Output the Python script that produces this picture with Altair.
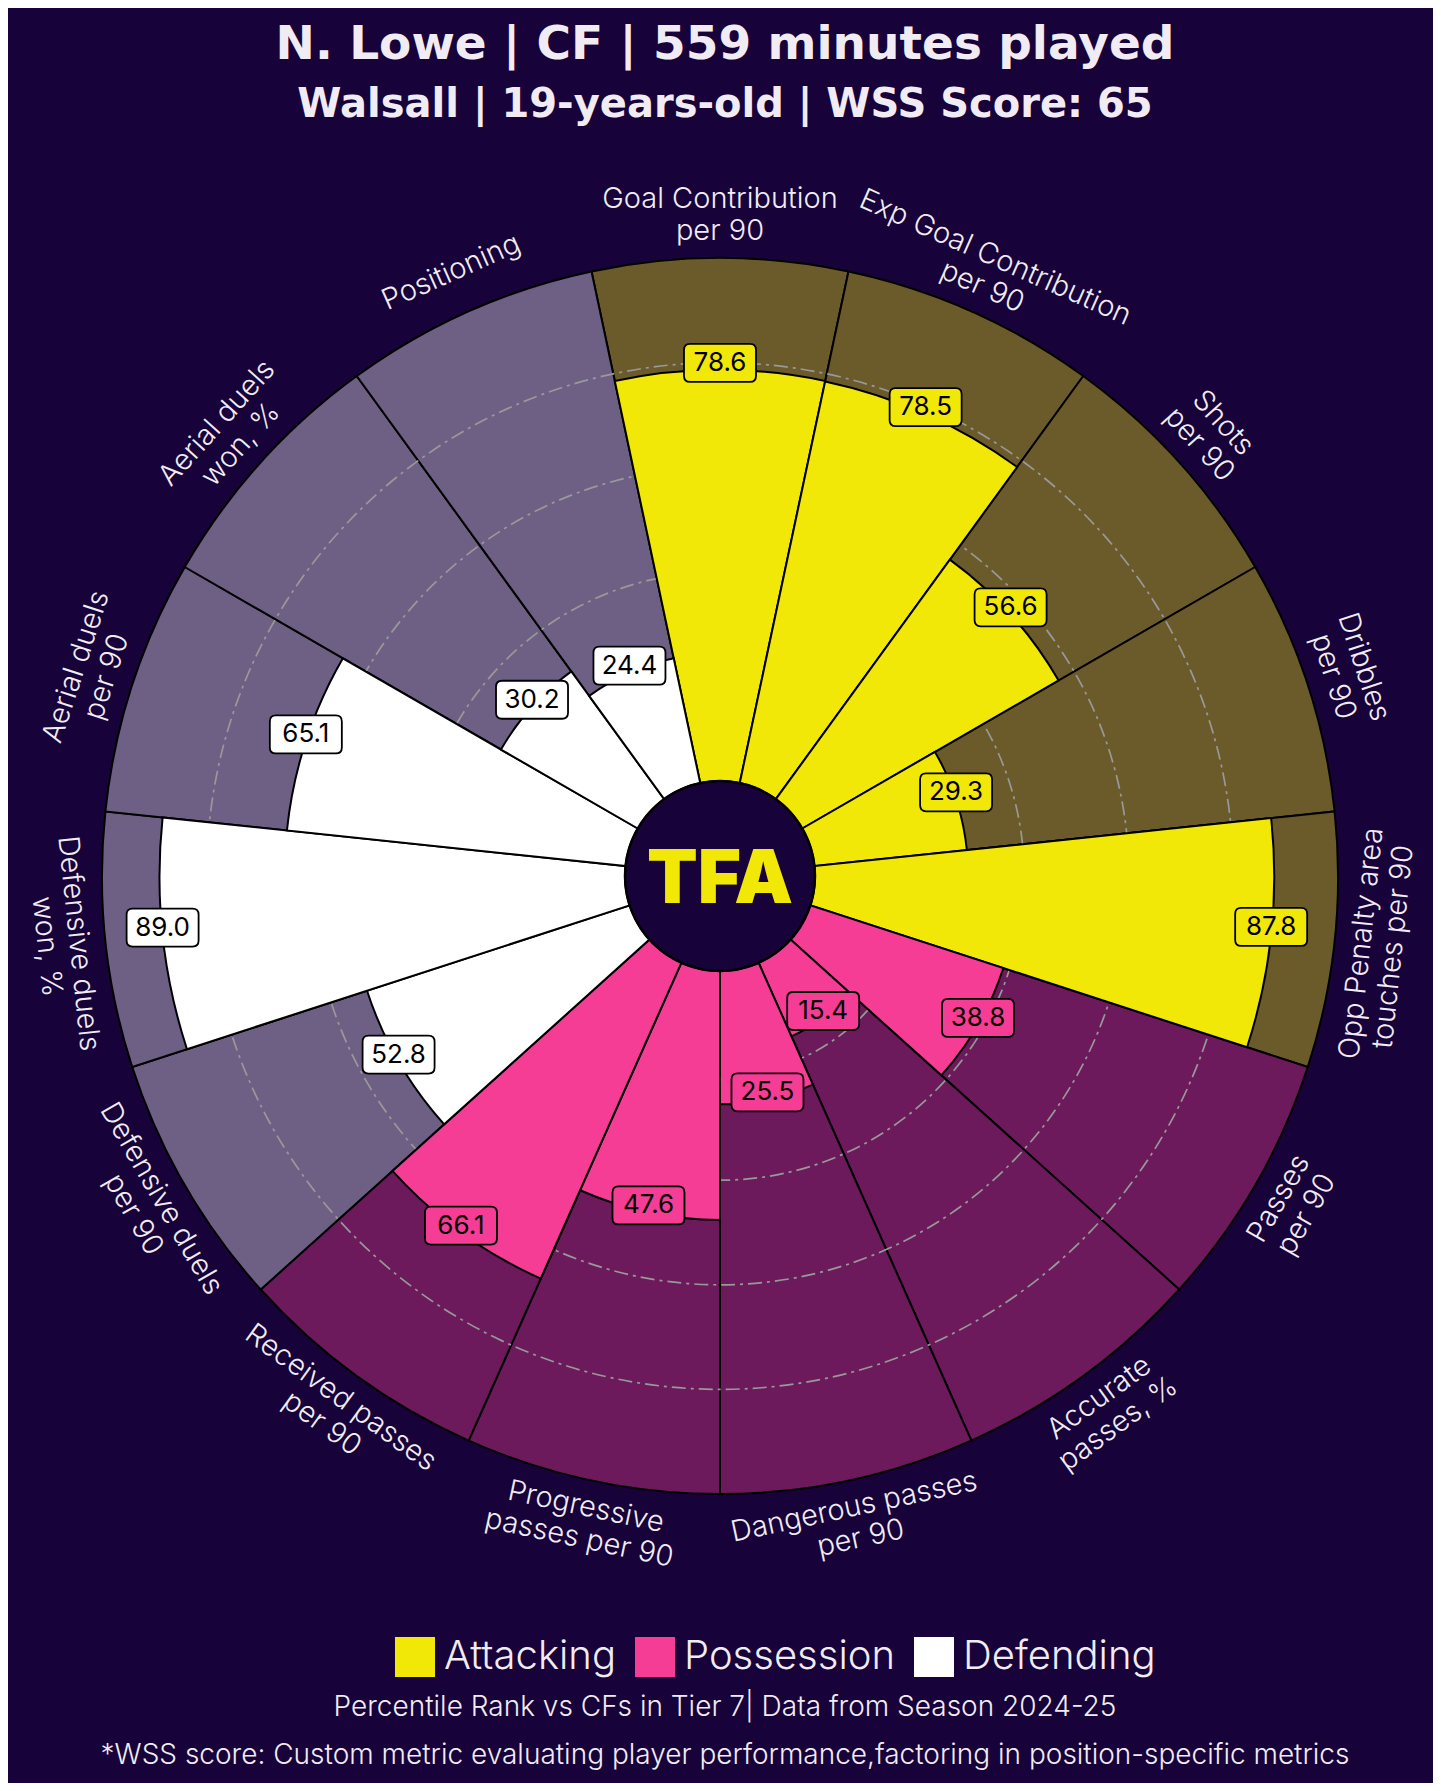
import math
import altair as alt
import pandas as pd

# ---------------- data ----------------
params = [
    "Goal Contribution\nper 90",
    "Exp Goal Contribution\nper 90",
    "Shots\nper 90",
    "Dribbles\nper 90",
    "Opp Penalty area\ntouches per 90",
    "Passes\nper 90",
    "Accurate\npasses, %",
    "Dangerous passes\nper 90",
    "Progressive\npasses per 90",
    "Received passes\nper 90",
    "Defensive duels\nper 90",
    "Defensive duels\nwon, %",
    "Aerial duels\nper 90",
    "Aerial duels\nwon, %",
    "Positioning",
]
values = [78.6, 78.5, 56.6, 29.3, 87.8, 38.8, 15.4, 25.5, 47.6, 66.1, 52.8, 89.0, 65.1, 30.2, 24.4]
groups = ["Attacking"] * 5 + ["Possession"] * 5 + ["Defending"] * 5
group_names = ["Attacking", "Possession", "Defending"]
bar_colors = ["#F2E807", "#F53D96", "#FFFFFF"]
bg_colors = ["#6B5A2A", "#6C1A5C", "#6E6085"]
grid_levels = [20, 40, 60, 80]

title_text = "N. Lowe | CF | 559 minutes played"
subtitle_text = "Walsall | 19-years-old | WSS Score: 65"
foot1_text = "Percentile Rank vs CFs in Tier 7| Data from Season 2024-25"
foot2_text = "*WSS score: Custom metric evaluating player performance,factoring in position-specific metrics"

# ---------------- style / layout ----------------
BG = "#170239"
TXT = "#F1ECF4"
FONT = "Inter"
TFONT = "DejaVu Sans"
W, H = 1425, 1775
CX, CY = 712, 868
R0, R1 = 95, 618
LR = 661
LH = 32
TX = 717
STEP = 360 / len(params)

df = pd.DataFrame({"param": params, "value": values, "group": groups})
df["idx"] = range(len(df))
df["mid"] = df["idx"] * STEP
df["start"] = df["mid"] - STEP / 2
df["end"] = df["mid"] + STEP / 2
df["full"] = 100
df["flip"] = [1 if 90 <= m < 270 else 0 for m in df["mid"]]
df["rot"] = [((m + 180) % 360) if f else m for m, f in zip(df["mid"], df["flip"])]
df["nl"] = [p.count("\n") + 1 for p in params]

THETA = alt.Scale(domain=[0, 360], range=[0, 2 * math.pi])
RAD = alt.Scale(type="linear", domain=[0, 100], range=[R0, R1], zero=False)
XS = alt.Scale(domain=[-1, 1], range=[CX - R1, CX + R1])
YS = alt.Scale(domain=[-1, 1], range=[CY + R1, CY - R1])
BG_FILL = alt.Scale(domain=group_names, range=bg_colors)
BAR_FILL = alt.Scale(domain=group_names, range=bar_colors)

base = alt.Chart(df)
cx = alt.value(CX)
cy = alt.value(CY)

bg = base.mark_arc(stroke="black", strokeWidth=2).encode(
    theta=alt.Theta("start:Q", scale=THETA, stack=None),
    theta2=alt.Theta2("end"),
    radius=alt.Radius("full:Q", scale=RAD),
    fill=alt.Fill("group:N", scale=BG_FILL, legend=None),
    x=cx, y=cy,
)

grid_df = pd.DataFrame({"g": grid_levels, "t0": 0, "t1": 360})
grid = alt.Chart(grid_df).mark_arc(
    filled=False, stroke="#999999", strokeWidth=1.7, strokeDash=[14, 5, 3, 5],
).encode(
    theta=alt.Theta("t0:Q", scale=THETA, stack=None),
    theta2=alt.Theta2("t1"),
    radius=alt.Radius("g:Q", scale=RAD),
    x=cx, y=cy,
)

bars = base.mark_arc(stroke="black", strokeWidth=2).encode(
    theta=alt.Theta("start:Q", scale=THETA, stack=None),
    theta2=alt.Theta2("end"),
    radius=alt.Radius("value:Q", scale=RAD),
    fill=alt.Fill(
        "group:N", scale=BAR_FILL,
        legend=alt.Legend(
            orient="none", legendX=387, legendY=1629, direction="horizontal",
            title=None, symbolType="square", symbolSize=1600, symbolStrokeWidth=0,
            labelFontSize=40, labelColor=TXT, labelFont=FONT, labelFontWeight=300,
            labelLimit=400, columnPadding=19, labelOffset=9,
        ),
    ),
    x=cx, y=cy,
)

hole_df = pd.DataFrame({"t0": [0], "t1": [360]})
hole = alt.Chart(hole_df).mark_arc(
    fill=BG, stroke="black", strokeWidth=2.5
).encode(
    theta=alt.Theta("t0:Q", scale=THETA, stack=None),
    theta2=alt.Theta2("t1"),
    radius=alt.value(R0),
    x=cx, y=cy,
)

logo = alt.Chart(pd.DataFrame({"t": ["TFA"]})).mark_text(
    fontSize=74, fontWeight=900, font=FONT, color="#F2E807", baseline="middle"
).encode(text="t:N", x=cx, y=alt.value(CY + 5))

pos = base.transform_calculate(
    u=f"({R0} + {R1 - R0} * datum.value / 100) / {R1}",
    th="datum.mid * PI / 180",
).transform_calculate(
    vx="datum.u * sin(datum.th)",
    vy="datum.u * cos(datum.th)",
)

BOX = ("M-0.833,-0.528 L0.833,-0.528 Q1,-0.528 1,-0.361 L1,0.361 Q1,0.528 0.833,0.528 "
       "L-0.833,0.528 Q-1,0.528 -1,0.361 L-1,-0.361 Q-1,-0.528 -0.833,-0.528 Z")

boxes = pos.mark_point(
    shape=BOX, size=72 * 72, filled=True, opacity=1, stroke="black", strokeWidth=1.8,
    yOffset=-7,
).encode(
    x=alt.X("vx:Q", scale=XS, axis=None),
    y=alt.Y("vy:Q", scale=YS, axis=None),
    fill=alt.Fill("group:N", scale=BAR_FILL, legend=None),
)

valtext = pos.mark_text(
    fontSize=26, font=FONT, color="black", baseline="middle", yOffset=-7
).encode(
    x=alt.X("vx:Q", scale=XS, axis=None),
    y=alt.Y("vy:Q", scale=YS, axis=None),
    text=alt.Text("value:Q", format=".1f"),
)

# multi-line text is anchored at its first line: shift the anchor so the block is centred
labels = base.transform_calculate(
    th="datum.mid * PI / 180",
    lr=f"({LR} + (datum.nl - 1) * {LH / 2} * (datum.flip ? -1 : 1)) / {R1}",
).transform_calculate(
    lx="datum.lr * sin(datum.th)",
    ly="datum.lr * cos(datum.th)",
).mark_text(
    fontSize=29, font=FONT, fontWeight=300, color=TXT, lineBreak="\n", lineHeight=LH,
    baseline="middle", align="center",
).encode(
    x=alt.X("lx:Q", scale=XS, axis=None),
    y=alt.Y("ly:Q", scale=YS, axis=None),
    text="param:N",
    angle=alt.Angle("rot:Q", scale=None),
)


def line(txt, y, size, weight="normal", font=FONT):
    return alt.Chart(pd.DataFrame({"t": [txt]})).mark_text(
        fontSize=size, fontWeight=weight, font=font, color=TXT, baseline="middle"
    ).encode(text="t:N", x=alt.value(TX), y=alt.value(y))


title = line(title_text, 37, 47, "bold", TFONT)
subtitle = line(subtitle_text, 97, 40, "bold", TFONT)
foot1 = line(foot1_text, 1700, 28, 300)
foot2 = line(foot2_text, 1748, 28, 300)

chart = alt.layer(
    bg, grid, bars, hole, logo, boxes, valtext, labels, title, subtitle, foot1, foot2
).resolve_scale(fill="independent").properties(
    width=W, height=H, padding=0,
    autosize=alt.AutoSizeParams(type="none"),
    background=BG,
).configure_view(strokeWidth=0)

chart.save("out.html", embed_options={"renderer": "svg", "actions": False})
